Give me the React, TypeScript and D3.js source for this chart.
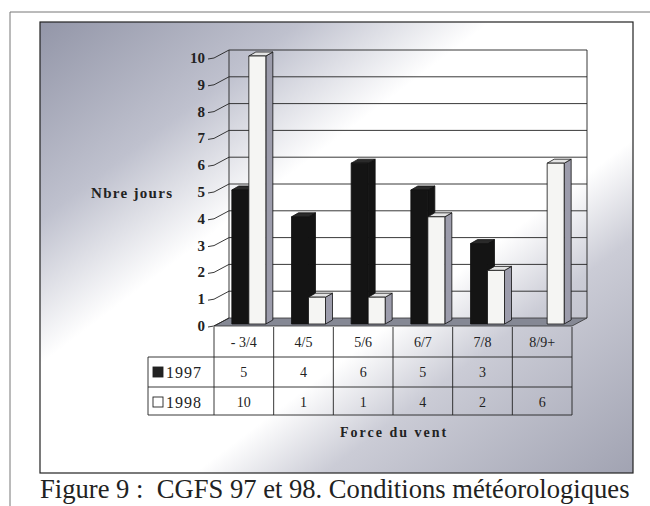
import React from 'react';
import * as d3 from 'd3';

const categories = ['- 3/4', '4/5', '5/6', '6/7', '7/8', '8/9+'];
const series = ['1997', '1998'];
const values1997 = [5, 4, 6, 5, 3, null];
const values1998 = [10, 1, 1, 4, 2, 6];
const yTicks = [0, 1, 2, 3, 4, 5, 6, 7, 8, 9, 10];

const width = 650;
const height = 506;

// 3d offsets: back wall and bar depth
const wallDX = 15;
const wallDY = -8;
const barOffX = 5;
const barOffY = -2;
const barDX = 7;
const barDY = -4;
const barW = 17;

const x = d3.scaleBand<string>().domain(categories).range([214, 572]);
const y = d3.scaleLinear().domain([0, 10]).range([326, 58]);

const serif = "'Liberation Serif', 'Times New Roman', 'DejaVu Serif', serif";

const bar3d = (x0: number, v: number, front: string, side: string, top: string, key: string) => {
  const x1 = x0 + barW;
  const yb = y(0) + barOffY;
  const yt = y(v) + barOffY;
  return (
    <g key={key} stroke="#111" strokeWidth={0.8} strokeLinejoin="round">
      <path d={`M${x1},${yt} L${x1 + barDX},${yt + barDY} L${x1 + barDX},${yb + barDY} L${x1},${yb} Z`} fill={side} />
      <path d={`M${x0},${yt} L${x0 + barDX},${yt + barDY} L${x1 + barDX},${yt + barDY} L${x1},${yt} Z`} fill={top} />
      <rect x={x0} y={yt} width={barW} height={yb - yt} fill={front} />
    </g>
  );
};

const App = () => {
  const bw = x.bandwidth();
  const x0 = x.range()[0];
  const x1 = x.range()[1];
  const rowTop = [327, 357, 387, 415];

  return (
    <svg width={width} height={height} style={{ position: 'absolute', left: 0, top: 0, fontFamily: serif }}>
      <defs>
        <linearGradient id="bg" x1="0" y1="0" x2="1" y2="1">
          <stop offset="0" stopColor="#9396a8" />
          <stop offset="0.22" stopColor="#bfc1ce" />
          <stop offset="0.38" stopColor="#ffffff" />
          <stop offset="0.63" stopColor="#ffffff" />
          <stop offset="0.74" stopColor="#cbccd6" />
          <stop offset="1" stopColor="#a1a3b2" />
        </linearGradient>
      </defs>
      <rect width={width} height={height} fill="#fff" />
      {/* outer frame */}
      <line x1={10} y1={12} x2={650} y2={12} stroke="#777" strokeWidth={1} />
      <line x1={10} y1={12} x2={10} y2={506} stroke="#777" strokeWidth={1} />

      {/* chart area */}
      <rect x={40} y={22} width={593} height={451} fill="url(#bg)" stroke="#222" strokeWidth={1.2} />

      {/* floor */}
      <path
        d={`M${x0},${y(0)} L${x0 + wallDX},${y(0) + wallDY} L${x1 + wallDX},${y(0) + wallDY} L${x1},${y(0)} Z`}
        fill="#858894" stroke="#333" strokeWidth={0.8}
      />

      {/* back wall grid */}
      {yTicks.filter(t => t > 0).map(t => (
        <g key={t} stroke="#222" strokeWidth={0.9}>
          <line x1={x0 + wallDX} y1={y(t) + wallDY} x2={x1 + wallDX} y2={y(t) + wallDY} />
          <line x1={x0} y1={y(t)} x2={x0 + wallDX} y2={y(t) + wallDY} />
        </g>
      ))}
      <line x1={x0 + wallDX} y1={y(10) + wallDY} x2={x0 + wallDX} y2={y(0) + wallDY} stroke="#222" strokeWidth={0.9} />
      <line x1={x1 + wallDX} y1={y(10) + wallDY} x2={x1 + wallDX} y2={y(0) + wallDY} stroke="#222" strokeWidth={0.9} />
      <line x1={x0} y1={y(0)} x2={x0 + wallDX} y2={y(0) + wallDY} stroke="#222" strokeWidth={0.9} />

      {/* ticks and labels */}
      {yTicks.map(t => (
        <g key={t}>
          <line x1={208} y1={y(t) + 1} x2={x0} y2={y(t)} stroke="#222" strokeWidth={0.9} />
          <text x={205} y={y(t) + 5} textAnchor="end" fontFamily={serif} fontWeight="bold" fontSize={15} fill="#222">
            {t}
          </text>
        </g>
      ))}
      <text x={91} y={198} fontFamily={serif} fontWeight="bold" fontSize={15} letterSpacing={1.3} fill="#222">
        Nbre jours
      </text>

      {/* bars */}
      {categories.map((c, i) => {
        const cx = (x(c) as number) + bw / 2 + barOffX;
        const v97 = values1997[i];
        const v98 = values1998[i];
        return (
          <g key={c}>
            {v97 != null && bar3d(cx - barW, v97, '#141414', '#141414', '#2a2a2a', 'a')}
            {v98 != null && bar3d(cx, v98, '#f5f5f3', '#9c9cab', '#e4e4e4', 'b')}
          </g>
        );
      })}

      {/* data table */}
      <g stroke="#222" strokeWidth={0.9}>
        <line x1={x0} y1={rowTop[0]} x2={x0} y2={rowTop[3]} />
        <line x1={x1} y1={rowTop[0]} x2={x1} y2={rowTop[3]} />
        {categories.slice(1).map(c => (
          <line key={c} x1={x(c)} y1={rowTop[0]} x2={x(c)} y2={rowTop[3]} />
        ))}
        <line x1={148} y1={rowTop[1]} x2={x1} y2={rowTop[1]} />
        <line x1={148} y1={rowTop[2]} x2={x1} y2={rowTop[2]} />
        <line x1={148} y1={rowTop[3]} x2={x1} y2={rowTop[3]} />
        <line x1={148} y1={rowTop[1]} x2={148} y2={rowTop[3]} />
      </g>
      {categories.map(c => (
        <text key={c} x={(x(c) as number) + bw / 2} y={rowTop[0] + 20} textAnchor="middle" fontFamily={serif} fontSize={14} fill="#222">
          {c}
        </text>
      ))}
      {[values1997, values1998].map((vals, r) => (
        <g key={r}>
          {vals.map((v, i) => v != null && (
            <text key={i} x={(x(categories[i]) as number) + bw / 2} y={rowTop[r + 1] + 20} textAnchor="middle" fontFamily={serif} fontSize={14} fill="#222">
              {v}
            </text>
          ))}
        </g>
      ))}
      {series.map((s, r) => (
        <g key={s}>
          <rect x={153} y={rowTop[r + 1] + 10} width={10} height={10} fill={r === 0 ? '#222' : '#fff'} stroke="#222" strokeWidth={0.9} />
          <text x={166} y={rowTop[r + 1] + 21} fontFamily={serif} fontSize={16} letterSpacing={1} fill="#222">
            {s}
          </text>
        </g>
      ))}
      <text x={340} y={437} fontFamily={serif} fontWeight="bold" fontSize={14} letterSpacing={2} fill="#222">
        Force du vent
      </text>

      {/* caption */}
      <text x={40} y={498} fontFamily={serif} fontSize={26.6} fill="#222" style={{ whiteSpace: 'pre' }}>
        {'Figure 9 :  CGFS 97 et 98. Conditions météorologiques'}
      </text>
    </svg>
  );
};

export default App;
